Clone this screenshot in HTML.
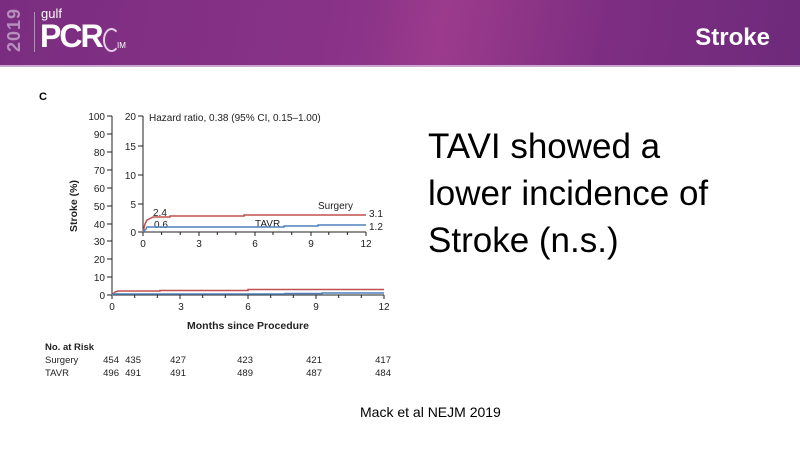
<!DOCTYPE html>
<html><head><meta charset="utf-8"><style>
body{margin:0;width:800px;height:450px;background:#fff;overflow:hidden;position:relative;font-family:"Liberation Sans",sans-serif}
.hdr{position:absolute;left:0;top:0;width:800px;height:65px;background:linear-gradient(100deg,#7a2d80 0%,#8a3388 45%,#9c3b8c 55%,#7e2e82 75%,#6e2a7c 100%)}
.line{position:absolute;left:0;top:65px;width:800px;height:2px;background:#c9a6cf}
</style></head><body>
<div class="hdr"></div><div class="line"></div>
<div style="position:absolute;left:4px;top:52px;transform:rotate(-90deg);transform-origin:0 0;color:#b78fbd;font-size:18px;font-weight:bold;letter-spacing:1px">2019</div>
<div style="position:absolute;left:34px;top:12px;width:1px;height:40px;background:#b78fbd"></div>
<div style="position:absolute;left:41px;top:6px;color:#fff;font-size:13px">gulf</div>
<div style="position:absolute;left:40px;top:18px;color:#fff;font-size:32px;font-weight:bold;letter-spacing:-2px">PCR</div>
<div style="position:absolute;left:103px;top:28px;width:13px;height:20px;border:2px solid #e6cde8;border-radius:50%;border-right-color:transparent"></div>
<div style="position:absolute;left:117px;top:41px;color:#fff;font-size:8px">IM</div>
<div style="position:absolute;right:30px;top:24px;color:#fff;font-size:24px;font-weight:bold">Stroke</div>
<div style="position:absolute;left:39px;top:91px;font-size:11px;font-weight:bold">C</div>
<svg width="800" height="450" style="position:absolute;left:0;top:0" font-family="Liberation Sans,sans-serif" font-size="10" fill="#222">
<g stroke="#222" stroke-width="1">
<line x1="112" y1="116" x2="112" y2="295"/><line x1="112" y1="295" x2="384" y2="295"/>
<line x1="143" y1="116" x2="143" y2="232"/><line x1="143" y1="232" x2="366" y2="232"/>
</g>
<g stroke="#222">
<path d="M107 116h5M107 134h5M107 152h5M107 170h5M107 188h5M107 206h5M107 224h5M107 241h5M107 259h5M107 277h5M107 295h5"/>
<path d="M112 295v4M134.7 295v3M157.3 295v3M180 295v4M202.7 295v3M225.3 295v3M248 295v4M270.7 295v3M293.3 295v3M316 295v4M338.7 295v3M361.3 295v3M384 295v4"/>
<path d="M138 116h5M138 146h5M138 175h5M138 204h5M138 232h5"/>
<path d="M143 232v4M161.6 232v3M180.2 232v3M199 232v4M217.3 232v3M235.9 232v3M255 232v4M273 232v3M291.7 232v3M311 232v4M328.8 232v3M347.4 232v3M366 232v4"/>
</g>
<g text-anchor="end">
<text x="105" y="120">100</text><text x="105" y="138">90</text><text x="105" y="156">80</text><text x="105" y="174">70</text><text x="105" y="192">60</text><text x="105" y="210">50</text><text x="105" y="228">40</text><text x="105" y="245">30</text><text x="105" y="263">20</text><text x="105" y="281">10</text><text x="105" y="299">0</text>
<text x="136" y="120">20</text><text x="136" y="150">15</text><text x="136" y="179">10</text><text x="136" y="208">5</text><text x="136" y="236">0</text>
</g>
<g text-anchor="middle">
<text x="112" y="310">0</text><text x="181" y="310">3</text><text x="248" y="310">6</text><text x="316" y="310">9</text><text x="384" y="310">12</text>
<text x="143" y="247">0</text><text x="199" y="247">3</text><text x="255" y="247">6</text><text x="311" y="247">9</text><text x="366" y="247">12</text>
<text x="248" y="329" font-weight="bold" font-size="10.5">Months since Procedure</text>
</g>
<text transform="translate(77,206) rotate(-90)" text-anchor="middle" font-weight="bold" font-size="10.5">Stroke (%)</text>
<text x="149" y="121">Hazard ratio, 0.38 (95% CI, 0.15–1.00)</text>
<text x="153" y="216">2.4</text><text x="154" y="228">0.6</text>
<text x="318" y="209">Surgery</text><text x="255" y="227">TAVR</text>
<text x="369" y="217">3.1</text><text x="369" y="230">1.2</text>
<path d="M143 232L145 224L147 220L149 219L153 217H170V216H244V215H366" fill="none" stroke="#c0504d" stroke-width="1.5"/>
<path d="M143 232L146 229L147 227H284V226H318V225H366" fill="none" stroke="#4f81bd" stroke-width="1.5"/>
<path d="M112 295L115 292L118 291H160V290.5H248V289.5H384" fill="none" stroke="#c0504d" stroke-width="1.5"/>
<path d="M112 295L114 294H285V293.5H322V293H384" fill="none" stroke="#4f81bd" stroke-width="1.5"/>
<g font-size="9.5">
<text x="45" y="350" font-weight="bold">No. at Risk</text>
<text x="45" y="363">Surgery</text><text x="45" y="376">TAVR</text>
<g text-anchor="end">
<text x="119" y="363">454</text><text x="141" y="363">435</text><text x="186" y="363">427</text><text x="253" y="363">423</text><text x="322" y="363">421</text><text x="391" y="363">417</text>
<text x="119" y="376">496</text><text x="141" y="376">491</text><text x="186" y="376">491</text><text x="253" y="376">489</text><text x="322" y="376">487</text><text x="391" y="376">484</text>
</g></g>
</svg>
<div style="position:absolute;left:428px;top:123px;font-size:35px;line-height:47px;color:#000">TAVI showed a<br>lower incidence of<br>Stroke (n.s.)</div>
<div style="position:absolute;left:360px;top:404px;font-size:14px;color:#000">Mack et al NEJM 2019</div>
</body></html>
